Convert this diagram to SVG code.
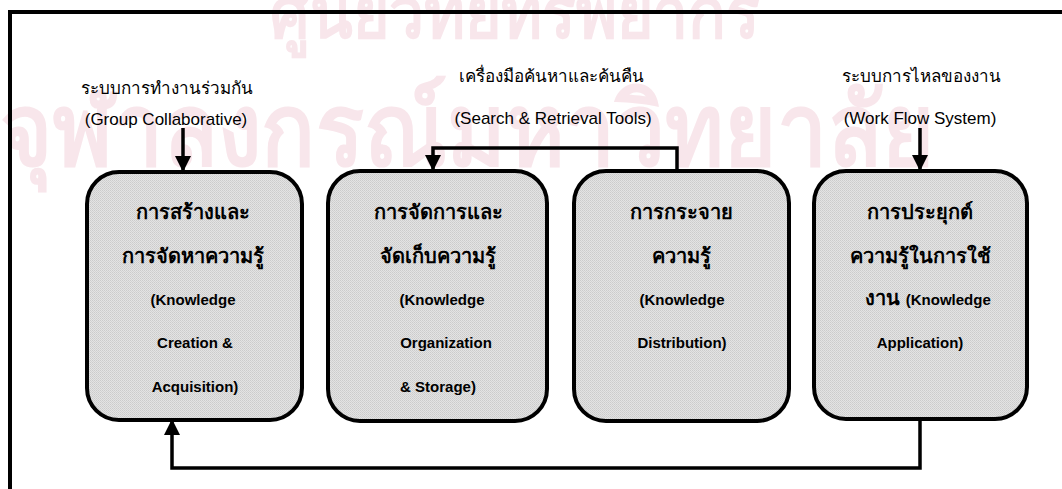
<svg xmlns="http://www.w3.org/2000/svg" width="1062" height="489" viewBox="0 0 1062 489">
<defs>
<pattern id="tex" width="2" height="2" patternUnits="userSpaceOnUse">
<rect width="2" height="2" fill="#e3e3e3"/>
<rect width="1" height="1" fill="#cbcbcb"/>
<rect x="1" y="1" width="1" height="1" fill="#d2d2d2"/>
</pattern>
<marker id="ah" markerUnits="userSpaceOnUse" markerWidth="16" markerHeight="18" refX="14" refY="8" orient="auto">
<path d="M0,0 L16,8 L0,16 Z" fill="#000"/>
</marker>
<style>
.box{fill:url(#tex);stroke:#000;stroke-width:4}
.con{fill:none;stroke:#000;stroke-width:3.5}
.hd{font-family:"Liberation Sans","Noto Sans","DejaVu Sans",sans-serif;font-size:17px;fill:#000;text-anchor:middle}
.bt{font-family:"Liberation Sans","Noto Sans","DejaVu Sans",sans-serif;font-size:15px;font-weight:bold;fill:#000;text-anchor:middle}
.th{font-size:20px}
.wm{font-family:"Noto Sans","DejaVu Sans",sans-serif;font-weight:bold;fill:#f8e6eb}
</style>
</defs>
<rect width="1062" height="489" fill="#fff"/>
<g id="watermark">
<text class="wm" x="515" y="38" font-size="72" text-anchor="middle" textLength="490" lengthAdjust="spacingAndGlyphs">ศูนย์วิทยทรัพยากร</text>
<text class="wm" x="467" y="165" font-size="100" text-anchor="middle" textLength="935" lengthAdjust="spacingAndGlyphs">จุฬาลงกรณ์มหาวิทยาลัย</text>
</g>
<rect x="10" y="12" width="1100" height="600" fill="none" stroke="#000" stroke-width="4"/>
<g id="labels">
<text class="hd" x="167" y="94">ระบบการทำงานร่วมกัน</text>
<text class="hd" x="166" y="125">(Group Collaborative)</text>
<text class="hd" x="551" y="82">เครื่องมือค้นหาและค้นคืน</text>
<text class="hd" x="553" y="124">(Search &amp; Retrieval Tools)</text>
<text class="hd" x="921" y="82">ระบบการไหลของงาน</text>
<text class="hd" x="920" y="124">(Work Flow System)</text>
</g>
<g id="connectors">
<path class="con" d="M183,128 V170" marker-end="url(#ah)"/>
<path class="con" d="M677,170 V148 H433 V169" marker-end="url(#ah)"/>
<path class="con" d="M920,128 V169" marker-end="url(#ah)"/>
<path class="con" d="M920,419 V468 H172 V421" marker-end="url(#ah)"/>
</g>
<g id="node1">
<rect class="box" x="87" y="172" width="215" height="248" rx="32"/>
<text class="bt th" x="193" y="219">การสร้างและ</text>
<text class="bt th" x="193" y="263">การจัดหาความรู้</text>
<text class="bt" x="193" y="305">(Knowledge</text>
<text class="bt" x="195" y="348">Creation &amp;</text>
<text class="bt" x="195" y="392">Acquisition)</text>
</g>
<g id="node2">
<rect class="box" x="328" y="171" width="219" height="250" rx="32"/>
<text class="bt th" x="438" y="219">การจัดการและ</text>
<text class="bt th" x="438" y="263">จัดเก็บความรู้</text>
<text class="bt" x="442" y="305">(Knowledge</text>
<text class="bt" x="446" y="348">Organization</text>
<text class="bt" x="438" y="392">&amp; Storage)</text>
</g>
<g id="node3">
<rect class="box" x="574" y="171" width="215" height="250" rx="32"/>
<text class="bt th" x="681" y="219">การกระจาย</text>
<text class="bt th" x="681" y="263">ความรู้</text>
<text class="bt" x="682" y="305">(Knowledge</text>
<text class="bt" x="682" y="348">Distribution)</text>
</g>
<g id="node4">
<rect class="box" x="814" y="171" width="213" height="248" rx="32"/>
<text class="bt th" x="920" y="219">การประยุกต์</text>
<text class="bt th" x="920" y="263">ความรู้ในการใช้</text>
<text class="bt th" x="928" y="305">งาน <tspan font-size="15">(Knowledge</tspan></text>
<text class="bt" x="920" y="348">Application)</text>
</g>
</svg>
